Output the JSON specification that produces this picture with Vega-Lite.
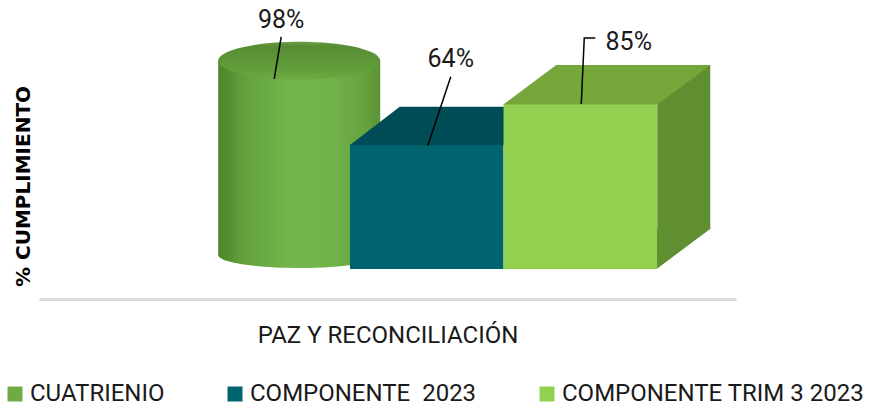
{
  "$schema": "https://vega.github.io/schema/vega-lite/v6.json",
  "width": 697,
  "height": 292,
  "autosize": {"type": "none"},
  "padding": {"left": 39, "top": 7, "right": 135, "bottom": 108},
  "background": "white",
  "config": {"view": {"stroke": null}},
  "data": {
    "values": [
      {"categoria": "PAZ Y RECONCILIACIÓN", "serie": "CUATRIENIO", "valor": 0.98},
      {"categoria": "PAZ Y RECONCILIACIÓN", "serie": "COMPONENTE  2023", "valor": 0.64},
      {"categoria": "PAZ Y RECONCILIACIÓN", "serie": "COMPONENTE TRIM 3 2023", "valor": 0.85}
    ]
  },
  "encoding": {
    "x": {
      "field": "serie", "type": "nominal",
      "scale": {"domain": ["CUATRIENIO", "COMPONENTE  2023", "COMPONENTE TRIM 3 2023"],
        "paddingInner": 0, "paddingOuter": 0.77, "align": 0.666},
      "axis": {"labels": false, "ticks": false, "tickSize": 0, "grid": false,
        "domainColor": "#d9d9d9", "domainWidth": 3,
        "title": "PAZ Y RECONCILIACIÓN", "titleFont": "Roboto", "titleFontWeight": "normal",
        "titleFontSize": 24, "titleColor": "#1a1a1a", "titleBaseline": "alphabetic",
        "titleY": 43, "titleLimit": 700}
    },
    "y": {
      "field": "valor", "type": "quantitative", "stack": null,
      "scale": {"domain": [-0.155, 1.35], "zero": false, "nice": false},
      "axis": {"domain": false, "labels": false, "ticks": false, "grid": false,
        "title": "% CUMPLIMIENTO", "titleFont": "DejaVu Sans", "titleFontWeight": "bold",
        "titleFontSize": 20, "titleColor": "#000000", "titleAngle": 270,
        "titleX": -16, "titleY": 179, "titleAlign": "center", "titleBaseline": "middle",
        "titleLimit": 400}
    }
  },
  "layer": [
    {
      "transform": [{"filter": {"field": "serie", "equal": "CUATRIENIO"}}],
      "layer": [
        {
          "mark": {"type": "point", "filled": true, "opacity": 1, "strokeWidth": 0, "size": 4,
            "xOffset": 26, "yOffset": -14,
            "shape": "M-81,0A81,13 0 1,0 81,0A81,13 0 1,0 -81,0Z",
            "fill": {"gradient": "linear", "x1": 0, "y1": 0, "x2": 1, "y2": 0,
              "stops": [{"offset": 0, "color": "#4a842b"}, {"offset": 0.15, "color": "#62a03c"},
                {"offset": 0.45, "color": "#73b74b"}, {"offset": 0.7, "color": "#71b349"},
                {"offset": 0.9, "color": "#67a340"}, {"offset": 1, "color": "#5a9236"}]}},
          "encoding": {"y": {"datum": 0}}
        },
        {
          "mark": {"type": "bar", "width": 162, "xOffset": 26, "yOffset": -18, "y2Offset": -14,
            "color": {"gradient": "linear", "x1": 0, "y1": 0, "x2": 1, "y2": 0,
              "stops": [{"offset": 0, "color": "#4a842b"}, {"offset": 0.15, "color": "#62a03c"},
                {"offset": 0.45, "color": "#73b74b"}, {"offset": 0.7, "color": "#71b349"},
                {"offset": 0.9, "color": "#67a340"}, {"offset": 1, "color": "#5a9236"}]}},
          "encoding": {"y2": {"datum": 0}}
        },
        {
          "mark": {"type": "point", "filled": true, "opacity": 1, "strokeWidth": 0, "size": 4,
            "xOffset": 26, "yOffset": -18,
            "shape": "M-81,0A81,19 0 1,0 81,0A81,19 0 1,0 -81,0Z",
            "fill": {"gradient": "linear", "x1": 0, "y1": 0, "x2": 0, "y2": 1,
              "stops": [{"offset": 0, "color": "#6a9f45"}, {"offset": 0.12, "color": "#578c33"},
                {"offset": 0.6, "color": "#5f9a38"}, {"offset": 1, "color": "#6cab42"}]}},
          "encoding": {}
        },
        {
          "mark": {"type": "point", "filled": false, "opacity": 1, "stroke": "#000000", "strokeWidth": 1.5,
            "size": 4, "xOffset": 26, "shape": "M-18,-42L-25,0"},
          "encoding": {}
        },
        {
          "mark": {"type": "text", "xOffset": 26, "dx": -18, "dy": -51, "align": "center",
            "baseline": "alphabetic", "font": "Roboto", "fontSize": 25, "color": "#1a1a1a"},
          "encoding": {"text": {"field": "valor", "type": "quantitative", "format": ".0%"}}
        }
      ]
    },
    {
      "transform": [{"filter": {"field": "serie", "equal": "COMPONENTE  2023"}}],
      "layer": [
        {
          "mark": {"type": "bar"},
          "encoding": {
            "y2": {"datum": 0},
            "color": {"field": "serie", "type": "nominal",
              "scale": {"domain": ["CUATRIENIO", "COMPONENTE  2023", "COMPONENTE TRIM 3 2023"],
                "range": ["#6faa45", "#00646f", "#92d050"]},
              "legend": {"orient": "none", "legendX": -36, "legendY": 375, "direction": "horizontal",
                "title": null, "symbolType": "square", "symbolSize": 225, "symbolStrokeWidth": 0,
                "symbolOpacity": 1, "labelFont": "Roboto", "labelFontSize": 24, "labelColor": "#1a1a1a",
                "labelOffset": 3, "columnPadding": 58, "padding": 0, "labelLimit": 500,
                "labelExpr": "replace(datum.label, 'COMPONENTE  2023', '\u00a0COMPONENTE\u00a0\u00a02023')"}}
          }
        },
        {
          "mark": {"type": "point", "filled": true, "opacity": 1, "strokeWidth": 0, "size": 4,
            "fill": "#004d57", "color": "#004d57",
            "shape": "M-77,0.5L77,0.5L127,-38L-27,-38Z"},
          "encoding": {}
        },
        {
          "mark": {"type": "point", "filled": false, "opacity": 1, "stroke": "#000000", "strokeWidth": 1.5,
            "size": 4, "shape": "M24,-68L1,1"},
          "encoding": {}
        },
        {
          "mark": {"type": "text", "dx": 24, "dy": -78, "align": "center",
            "baseline": "alphabetic", "font": "Roboto", "fontSize": 25, "color": "#1a1a1a"},
          "encoding": {"text": {"field": "valor", "type": "quantitative", "format": ".0%"}}
        }
      ]
    },
    {
      "transform": [{"filter": {"field": "serie", "equal": "COMPONENTE TRIM 3 2023"}}],
      "layer": [
        {
          "mark": {"type": "bar", "width": 53, "xOffset": 103.5, "yOffset": -39, "y2Offset": -40,
            "color": "#5f8f30"},
          "encoding": {"y2": {"datum": 0}}
        },
        {
          "mark": {"type": "point", "filled": true, "opacity": 1, "strokeWidth": 0, "size": 4,
            "fill": "#5f8f30", "color": "#5f8f30",
            "shape": "M76,0.3L130.5,-40.5L76,-40.5Z"},
          "encoding": {"y": {"datum": 0}}
        },
        {
          "mark": {"type": "bar"},
          "encoding": {
            "y2": {"datum": 0},
            "color": {"field": "serie", "type": "nominal",
              "scale": {"domain": ["CUATRIENIO", "COMPONENTE  2023", "COMPONENTE TRIM 3 2023"],
                "range": ["#6faa45", "#00646f", "#92d050"]}}
          }
        },
        {
          "mark": {"type": "point", "filled": true, "opacity": 1, "strokeWidth": 0, "size": 4,
            "fill": "#74a63a", "color": "#74a63a",
            "shape": "M-77,0.5L77,0.5L130.5,-39L-24,-39Z"},
          "encoding": {}
        },
        {
          "mark": {"type": "point", "filled": false, "opacity": 1, "stroke": "#000000", "strokeWidth": 1.5,
            "size": 4, "shape": "M15,-66L4,-66L1,0"},
          "encoding": {}
        },
        {
          "mark": {"type": "text", "dx": 48.5, "dy": -54, "align": "center",
            "baseline": "alphabetic", "font": "Roboto", "fontSize": 25, "color": "#1a1a1a"},
          "encoding": {"text": {"field": "valor", "type": "quantitative", "format": ".0%"}}
        }
      ]
    }
  ]
}
